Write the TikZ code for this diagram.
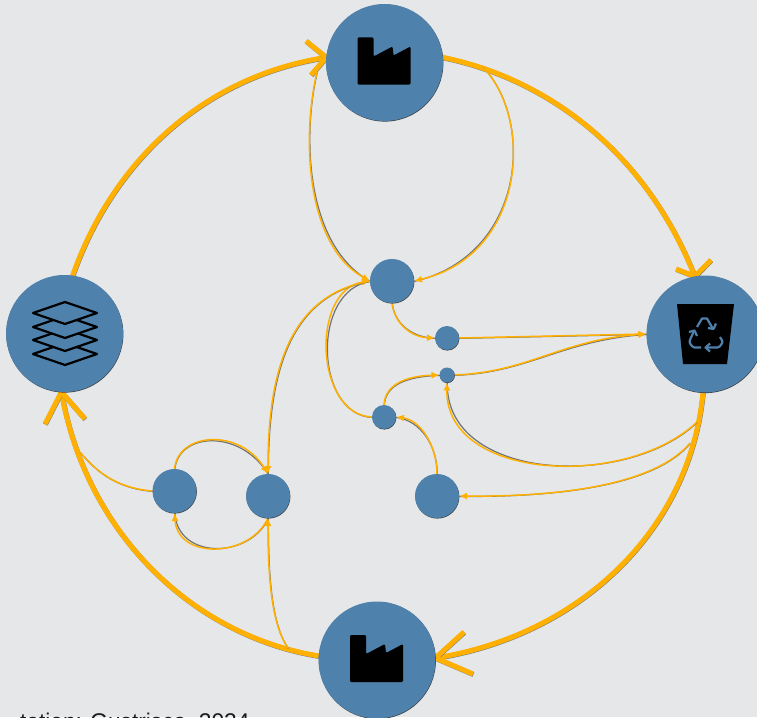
\documentclass[tikz,border=0pt]{standalone}
\usepackage{fontspec}
\setmainfont{Liberation Sans}
\usetikzlibrary{arrows.meta,calc,backgrounds}
\definecolor{bgc}{HTML}{E5E7E9}
\definecolor{nodec}{HTML}{4E81AB}
\definecolor{flow}{HTML}{FFB000}
\tikzset{
  x=1pt,y=-1pt,
  flownode/.style={circle,fill=nodec,draw=none,inner sep=0pt,minimum size=#1pt,outer sep=0pt,
    preaction={draw=none,fill=black!75,transform canvas={xshift=.4pt,yshift=-.6pt}}},
  bigflow/.style={draw=flow,line width=5pt,line join=round},
  bigshadow/.style={draw=black!50,line width=5pt,line join=round,transform canvas={xshift=.35pt,yshift=-.5pt}},
  thinflow/.style={draw=flow,line width=1.5pt},
  thinshadow/.style={draw=black!55,line width=1.2pt,transform canvas={xshift=.3pt,yshift=-.4pt}},
  tipped/.style={-{Latex[length=8pt,width=7pt,color=flow]}},
  recyc/.style={draw=nodec,line width=2.2pt,line join=round},
}
\newcommand{\biglink}[1]{\draw[bigshadow] #1;\draw[bigflow] #1;}
\newcommand{\thinlink}[2][]{\draw[thinshadow] #2;\draw[thinflow,#1] #2;}
\newcommand{\factoryicon}[1]{%
  \fill[black,rounded corners=1.2pt] ($(#1)+(-27,-25)$) -- ($(#1)+(-11,-25)$) -- ($(#1)+(-11,-6)$) -- ($(#1)+(8,-16)$) -- ($(#1)+(9,-7)$) -- ($(#1)+(26,-16)$) -- ($(#1)+(26,22)$) -- ($(#1)+(-27,22)$) -- cycle;}
\begin{document}
\begin{tikzpicture}
\useasboundingbox (0,0) rectangle (757,717);
% nodes
\node[flownode=117] (top) at (384.5,62.5) {};
\node[flownode=117] (right) at (705,334) {};
\node[flownode=117] (left) at (64.5,333.5) {};
\node[flownode=117] (bottom) at (377,660) {};
\node[flownode=44] (hub) at (392,281) {};
\node[flownode=24] (n1) at (447,338) {};
\node[flownode=15] (n2) at (447,375) {};
\node[flownode=24] (n3) at (384,417) {};
\node[flownode=44] (n4) at (437,496) {};
\node[flownode=44] (n5) at (268,496) {};
\node[flownode=44] (n6) at (174.5,491) {};
% free ends and arrowhead barbs
\coordinate (fromTopL) at (317,72);
\coordinate (fromTopR) at (482,66);
\coordinate (fromRightA) at (697,422);
\coordinate (fromRightB) at (690,443);
\coordinate (fromBottom) at (288,648);
\coordinate (toLeft) at (80,452);
\coordinate (ba1) at (306,41);
\coordinate (ba2) at (311,75);
\coordinate (bb1) at (676,269);
\coordinate (bb2) at (711,260);
\coordinate (bc1) at (464,632);
\coordinate (bc2) at (473,674);
\coordinate (bd1) at (45,424);
\coordinate (bd2) at (85,419);
\begin{scope}[on background layer]
\fill[bgc] (0,0) rectangle (757,717);
% main ring
\biglink{(left.82) .. controls (115,155) and (210,75) .. (top.175)}
\biglink{(ba1) -- (top.175) -- (ba2)}
\biglink{(top.5) .. controls (545,78) and (645,150) .. (right.100)}
\biglink{(bb1) -- (right.100) -- (bb2)}
\biglink{(right.268) .. controls (690,530) and (580,635) .. (bottom.2)}
\biglink{(bc1) -- (bottom.2) -- (bc2)}
\biglink{(bottom.176) .. controls (190,635) and (85,530) .. (left.267)}
\biglink{(bd1) -- (left.267) -- (bd2)}
% inner links
\thinlink[tipped]{(fromTopL) .. controls (302,135) and (305,245) .. (hub.180)}
\thinlink[tipped]{(fromTopR) .. controls (535,120) and (525,255) .. (hub.0)}
\thinlink[tipped]{(hub.270) .. controls (394,322) and (410,337) .. (n1.180)}
\thinlink[tipped]{(n1.0) -- (right.180)}
\thinlink[tipped]{(n2.0) .. controls (530,372) and (560,340) .. (right.180)}
\thinlink[tipped]{(n3.90) .. controls (385,385) and (405,376) .. (n2.180)}
\thinlink[tipped]{(fromRightA) .. controls (625,490) and (445,480) .. (n2.270)}
\thinlink[tipped]{(fromRightB) .. controls (655,485) and (560,497) .. (n4.0)}
\thinlink[tipped]{(n4.90) .. controls (437,445) and (420,420) .. (n3.0)}
\thinlink[tipped]{(n3.180) .. controls (315,415) and (310,290) .. (hub.180)}
\thinlink[tipped]{(hub.180) .. controls (290,295) and (268,370) .. (n5.90)}
\thinlink[tipped]{(n6.90) .. controls (178,432) and (240,428) .. (n5.90)}
\thinlink[tipped]{(n5.270) .. controls (250,558) and (178,560) .. (n6.270)}
\thinlink[tipped]{(fromBottom) .. controls (272,625) and (268,580) .. (n5.270)}
\thinlink{(n6.180) .. controls (115,488) and (95,470) .. (toLeft)}
\end{scope}
% icons
\factoryicon{top}
\factoryicon{bottom}
\fill[black] (677,304) -- (734,304) -- (727,364) -- (683,364) -- cycle;
\draw[recyc] (697,327) -- (702,318.5) -- (707,318.5) -- (713,329);
\draw[recyc] (708,328) -- (713.5,329) -- (716,323.5);
\draw[recyc,rounded corners=1.5pt] (694,331) -- (689,342) -- (693,347.5) -- (701,347.5);
\draw[recyc] (689,332) -- (694.5,330.5) -- (697,336);
\draw[recyc,rounded corners=1.5pt] (720,337) -- (723,342) -- (719,347.5) -- (705.5,347.5);
\draw[recyc] (710,343.5) -- (705.5,347.5) -- (710,351.5);
\foreach \cy in {354,340,327,313}{
  \draw[black,fill=nodec,line width=2.2pt,line join=round] (65,\cy-11) -- (97,\cy) -- (65,\cy+11) -- (33,\cy) -- cycle;
}
\node[anchor=base west,inner sep=0pt,text=black!90,font=\fontsize{22.7}{26}\selectfont] (cap) at (20,729) {tation: Gustrisca, 2024};
\end{tikzpicture}
\end{document}
